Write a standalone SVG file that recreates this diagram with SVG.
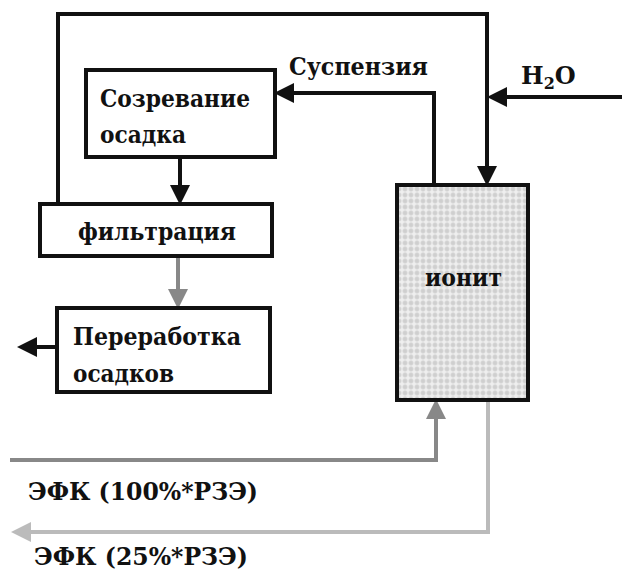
<svg xmlns="http://www.w3.org/2000/svg" width="622" height="570" viewBox="0 0 622 570">
<style>
.box{fill:#fff;stroke:#111;stroke-width:4}
.t{font-family:"DejaVu Serif","Liberation Serif",serif;font-weight:bold;font-size:24px;fill:#111}
.blk{fill:none;stroke:#111;stroke-width:4}
.g1{fill:none;stroke:#888;stroke-width:4}
.g2{fill:none;stroke:#bbb;stroke-width:4}
</style>
<defs>
<pattern id="dots" width="6" height="6" patternUnits="userSpaceOnUse">
<rect width="6" height="6" fill="#efefef"/>
<circle cx="3" cy="3" r="2.4" fill="#cfcfcf" stroke="#e0e0e0" stroke-width="0.6"/>
</pattern>
<marker id="ab" markerWidth="5" markerHeight="5" refX="4" refY="2.5" orient="auto" markerUnits="strokeWidth">
<path d="M0,0 L5,2.5 L0,5 Z" fill="#111"/>
</marker>
<marker id="ag1" markerWidth="5" markerHeight="5" refX="4" refY="2.5" orient="auto" markerUnits="strokeWidth">
<path d="M0,0 L5,2.5 L0,5 Z" fill="#888"/>
</marker>
<marker id="ag2" markerWidth="5" markerHeight="5" refX="4" refY="2.5" orient="auto" markerUnits="strokeWidth">
<path d="M0,0 L5,2.5 L0,5 Z" fill="#bbb"/>
</marker>
</defs>
<rect width="622" height="570" fill="#fff"/>
<g id="connectors">
<path class="blk" d="M58,204 V14 H487 V182" marker-end="url(#ab)"/>
<path class="blk" d="M622,97 H491" marker-end="url(#ab)"/>
<path class="blk" d="M434,185 V93 H278" marker-end="url(#ab)"/>
<path class="blk" d="M180,157 V201" marker-end="url(#ab)"/>
<path class="g1" d="M178,256 V305" marker-end="url(#ag1)"/>
<path class="blk" d="M57,347 H21" marker-end="url(#ab)"/>
<path class="g1" d="M10,460 H436 V403" marker-end="url(#ag1)"/>
<path class="g2" d="M488,400 V532 H15" marker-end="url(#ag2)"/>
</g>
<g id="n-sozrevanie">
<rect class="box" x="86" y="70" width="189" height="87"/>
<text class="t" x="100" y="107" textLength="150" lengthAdjust="spacingAndGlyphs">Созревание</text>
<text class="t" x="100" y="143" textLength="86" lengthAdjust="spacingAndGlyphs">осадка</text>
</g>
<g id="n-filtracia">
<rect class="box" x="40" y="204" width="232" height="52"/>
<text class="t" x="78" y="240" textLength="158" lengthAdjust="spacingAndGlyphs">фильтрация</text>
</g>
<g id="n-pererabotka">
<rect class="box" x="57" y="308" width="213" height="84"/>
<text class="t" x="73" y="345" textLength="168" lengthAdjust="spacingAndGlyphs">Переработка</text>
<text class="t" x="73" y="382" textLength="101" lengthAdjust="spacingAndGlyphs">осадков</text>
</g>
<g id="n-ionit">
<rect x="397" y="185" width="131" height="215" fill="url(#dots)" stroke="#111" stroke-width="4"/>
<text class="t" x="425" y="286" textLength="77" lengthAdjust="spacingAndGlyphs">ионит</text>
</g>
<g id="labels">
<text class="t" x="289" y="75" textLength="139" lengthAdjust="spacingAndGlyphs">Суспензия</text>
<text class="t" x="521" y="84">H<tspan font-size="16" dy="5">2</tspan><tspan dy="-5">O</tspan></text>
<text class="t" x="28" y="500" textLength="230" lengthAdjust="spacingAndGlyphs">ЭФК (100%*РЗЭ)</text>
<text class="t" x="34" y="565" textLength="214" lengthAdjust="spacingAndGlyphs">ЭФК (25%*РЗЭ)</text>
</g>
</svg>
